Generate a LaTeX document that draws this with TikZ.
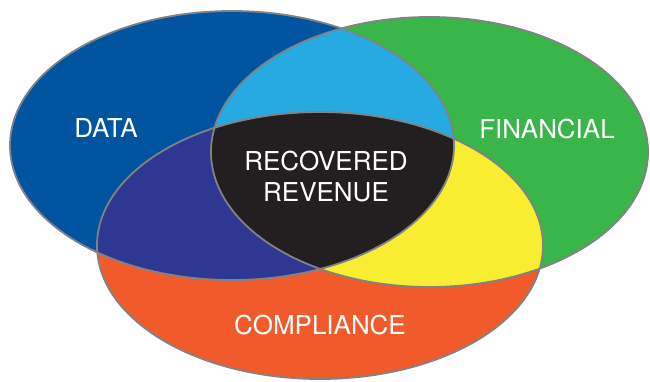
\documentclass[tikz,border=0pt]{standalone}
\usepackage{fontspec}
\setmainfont{TeX Gyre Heros}
\usepackage{xcolor}
\usetikzlibrary{positioning}

\definecolor{dataBlue}{HTML}{0054A0}
\definecolor{finGreen}{HTML}{39B54A}
\definecolor{compOrange}{HTML}{F15A2B}
\definecolor{skyBlue}{HTML}{27AAE1}
\definecolor{deepIndigo}{HTML}{2E3791}
\definecolor{sunYellow}{HTML}{F9ED32}
\definecolor{coreBlack}{HTML}{231F20}
\definecolor{rimGray}{HTML}{808285}

\newcommand{\dataSet}{(232,145.5) ellipse [x radius=222, y radius=134.5]}
\newcommand{\finSet}{(429.5,152) ellipse [x radius=218.5, y radius=135]}
\newcommand{\compSet}{(320,245.5) ellipse [x radius=223, y radius=133.5]}

\tikzset{
  rim/.style={draw=rimGray, line width=1.8pt},
  label/.style={text=white, font=\fontsize{26}{31}\selectfont, align=center}
}

\begin{document}
\begin{tikzpicture}[x=1pt, y=-1pt]
    \useasboundingbox (0,0) rectangle (650,381);

    % the three sets
    \fill[dataBlue] \dataSet;
    \fill[finGreen] \finSet;
    \fill[compOrange] \compSet;

    % pairwise overlaps
    \begin{scope}
        \clip \dataSet;
        \fill[skyBlue] \finSet;
        \fill[deepIndigo] \compSet;
    \end{scope}
    \begin{scope}
        \clip \finSet;
        \fill[sunYellow] \compSet;
    \end{scope}
    % centre, all three
    \begin{scope}
        \clip \dataSet;
        \clip \finSet;
        \fill[coreBlack] \compSet;
    \end{scope}

    \draw[rim] \dataSet;
    \draw[rim] \finSet;
    \draw[rim] \compSet;

    \node[label] (D) at (106,128) {DATA};
    \node[label] (F) at (547,129) {FINANCIAL};
    \node[label] (C) at (320,325) {COMPLIANCE};
    \node[label] (R) at (326,177) {RECOVERED\\REVENUE};
\end{tikzpicture}
\end{document}
